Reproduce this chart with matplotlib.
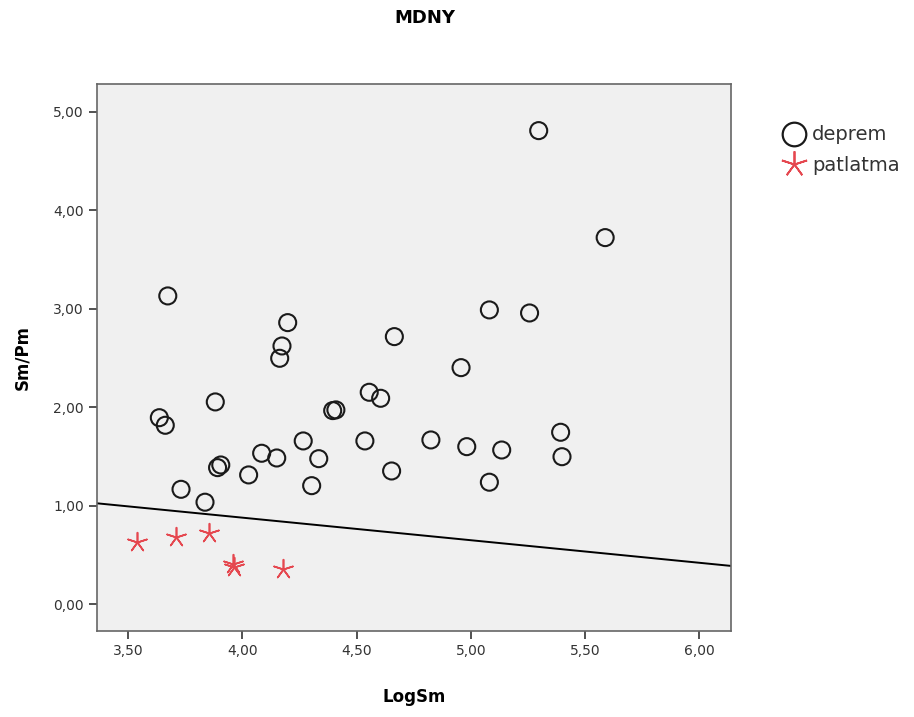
import matplotlib
matplotlib.use("Agg")
import matplotlib.pyplot as plt
from matplotlib.ticker import FuncFormatter, FixedLocator
from matplotlib.lines import Line2D

# Data
deprem_x = [3.673, 4.198, 4.173, 4.163, 5.297, 5.588, 5.081, 5.257, 4.665,
            3.636, 3.662, 3.881, 3.731, 3.836, 3.891, 3.905, 4.027, 4.084,
            4.150, 4.266, 4.334, 4.303, 4.395, 4.409, 4.555, 4.605, 4.536,
            4.653, 4.957, 4.825, 4.982, 5.135, 5.081, 5.393, 5.399]
deprem_y = [3.130, 2.859, 2.622, 2.497, 4.808, 3.722, 2.988, 2.957, 2.717,
            1.894, 1.817, 2.054, 1.167, 1.036, 1.387, 1.414, 1.313, 1.533,
            1.485, 1.658, 1.478, 1.204, 1.966, 1.973, 2.152, 2.091, 1.658,
            1.353, 2.402, 1.668, 1.600, 1.566, 1.239, 1.746, 1.498]
patlatma_x = [3.537, 3.709, 3.855, 3.957, 3.963, 4.179]
patlatma_y = [0.629, 0.686, 0.721, 0.409, 0.382, 0.355]

# Discriminant line endpoints (x, y)
line_x = [3.363, 6.141]
line_y = [1.025, 0.389]

x_ticks = [3.5, 4.0, 4.5, 5.0, 5.5, 6.0]
y_ticks = [0.0, 1.0, 2.0, 3.0, 4.0, 5.0]

plt.rcParams['font.family'] = ['DejaVu Sans']

fig = plt.figure(figsize=(9.14, 7.17), dpi=100)
ax = fig.add_axes([0.1061, 0.1204, 0.6942, 0.7624])
ax.set_facecolor('#f0f0f0')

red = '#e5474f'
ax.plot(line_x, line_y, color='black', lw=1.4, zorder=2)
ax.scatter(deprem_x, deprem_y, s=150, facecolors='none', edgecolors='#1a1a1a',
           linewidths=1.5, marker='o', zorder=3)
ax.scatter(patlatma_x, patlatma_y, s=200, c=red, marker=(5, 2, 0),
           linewidths=1.2, zorder=3)

ax.set_xlim(3.363, 6.141)
ax.set_ylim(-0.268, 5.281)
ax.xaxis.set_major_locator(FixedLocator(x_ticks))
ax.yaxis.set_major_locator(FixedLocator(y_ticks))
fmt = FuncFormatter(lambda v, p: f"{v:.2f}".replace('.', ','))
ax.xaxis.set_major_formatter(fmt)
ax.yaxis.set_major_formatter(fmt)
ax.tick_params(direction='out', length=6, width=1.2, color='#333333',
               labelsize=10, labelcolor='#333333')
for s in ax.spines.values():
    s.set_color('#666666')
    s.set_linewidth(1.2)

ax.set_xlabel('LogSm', fontsize=12, fontweight='bold', labelpad=22)
ax.set_ylabel('Sm/Pm', fontsize=12, fontweight='bold', labelpad=16)
fig.text(0.465, 0.975, 'MDNY', fontsize=13, fontweight='bold', ha='center', va='center')

handles = [
    Line2D([], [], marker='o', ls='none', markerfacecolor='none',
           markeredgecolor='#1a1a1a', markersize=17, markeredgewidth=1.6, label='deprem'),
    Line2D([], [], marker=(5, 2, 0), ls='none', color=red,
           markersize=19, markeredgewidth=1.3, label='patlatma'),
]
fig.legend(handles=handles, loc='upper left', bbox_to_anchor=(0.847, 0.836),
           frameon=False, fontsize=14, handletextpad=0.35, labelspacing=0.6,
           borderaxespad=0, handlelength=1.2, labelcolor='#333333')

fig.savefig('out.png', dpi=100)
